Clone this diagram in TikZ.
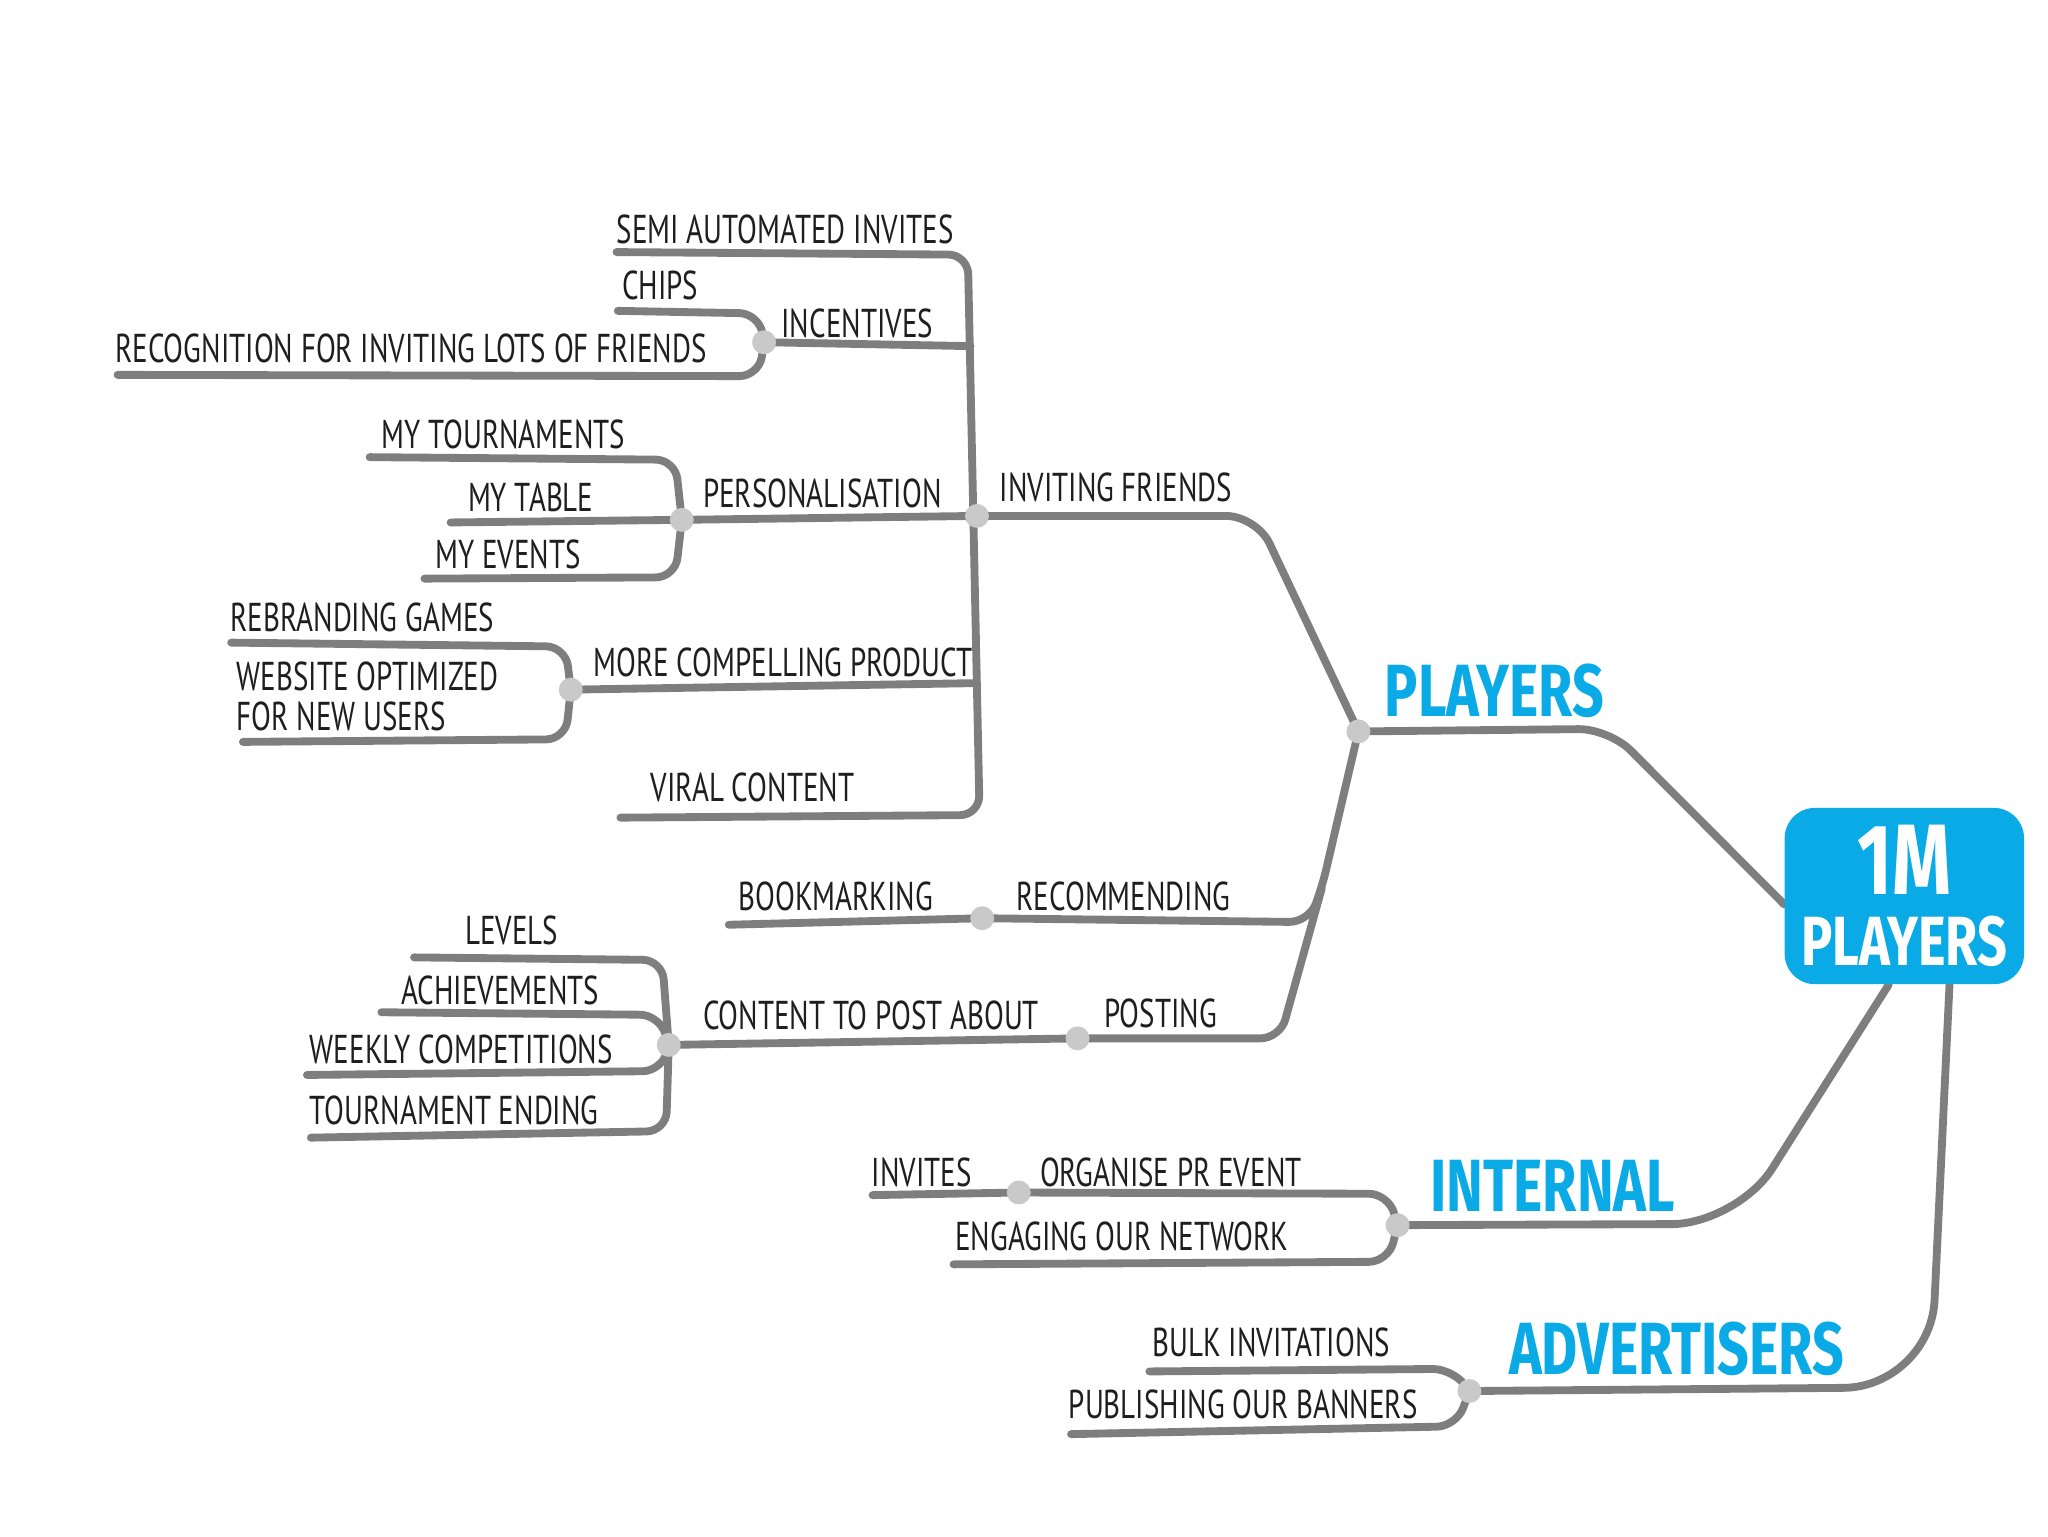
\documentclass[tikz,border=0pt]{standalone}
\usepackage{fontspec}
\newfontfamily\hand[FakeStretch=0.72]{PT Sans}
\newfontfamily\handb[FakeStretch=0.75]{Fira Sans}
\usetikzlibrary{backgrounds}
\definecolor{lgray}{HTML}{7E7E7E}
\definecolor{dgray}{HTML}{C9C9C9}
\definecolor{sky}{HTML}{0AAAE6}
\definecolor{ink}{HTML}{1E1E1E}
\begin{document}
\begin{tikzpicture}[x=0.6pt,y=-0.6pt,
  br/.style={draw=lgray,line width=3.6pt,line cap=round,line join=round,rounded corners=9pt},
  hub/.style={circle,fill=dgray,minimum size=11pt,inner sep=0pt},
  lbl/.style={anchor=south west,inner sep=0pt,text=ink,font=\hand\fontsize{18.5}{21}\selectfont},
  blbl/.style={anchor=south west,inner sep=0pt,text=sky,font=\handb\bfseries\fontsize{34}{36}\selectfont}]
\useasboundingbox (0,0) rectangle (1568,1176);

% central box
\node[fill=sky,rounded corners=14pt,minimum width=110pt,minimum height=81pt,inner sep=0pt,
      align=center,text=white,font=\handb\bfseries] (main) at (1458,686)
      {{\fontsize{46}{46}\selectfont 1M}\\[9pt]{\fontsize{32}{32}\selectfont PLAYERS}};

% hubs
\node[hub] (dPlayers) at (1040,560) {};
\node[hub] (dInv) at (748,395) {};
\node[hub] (dInc) at (585,262) {};
\node[hub] (dPers) at (522,398) {};
\node[hub] (dComp) at (437,528) {};
\node[hub] (dBook) at (752,703) {};
\node[hub] (dPost) at (825,795) {};
\node[hub] (dContent) at (512,800) {};
\node[hub] (dInt) at (1070,938) {};
\node[hub] (dPR) at (780,913) {};
\node[hub] (dAdv) at (1125,1065) {};

% free ends
\coordinate (eSemi) at (472,193);
\coordinate (eViral) at (475,626);
\coordinate (tInc) at (743,265);
\coordinate (tComp) at (748,523);
\coordinate (eChips) at (473,238);
\coordinate (eRecog) at (90,287);
\coordinate (eTourn) at (283,350);
\coordinate (eTable) at (345,400);
\coordinate (eEvents) at (325,443);
\coordinate (eRebr) at (177,492);
\coordinate (eWeb) at (186,568);
\coordinate (eBook) at (558,708);
\coordinate (eLevels) at (317,733);
\coordinate (eAch) at (292,775);
\coordinate (eWeekly) at (235,823);
\coordinate (eTEnd) at (238,871);
\coordinate (eInvites) at (668,915);
\coordinate (eEng) at (730,968);
\coordinate (eBulk) at (880,1050);
\coordinate (ePub) at (820,1098);

% labels
\node[lbl] (lSemi) at (472,187) {SEMI AUTOMATED INVITES};
\node[lbl] (lChips) at (476,230) {CHIPS};
\node[lbl] (lInc) at (598,259) {INCENTIVES};
\node[lbl] (lRecog) at (88,278) {RECOGNITION FOR INVITING LOTS OF FRIENDS};
\node[lbl] (lTourn) at (292,344) {MY TOURNAMENTS};
\node[lbl] (lPers) at (538,389) {PERSONALISATION};
\node[lbl] (lTable) at (358,392) {MY TABLE};
\node[lbl] (lEvents) at (333,436) {MY EVENTS};
\node[lbl] (lInv) at (765,385) {INVITING FRIENDS};
\node[lbl] (lRebr) at (176,484) {REBRANDING GAMES};
\node[lbl] (lComp) at (454,519) {MORE COMPELLING PRODUCT};
\node[lbl,align=left,font=\hand\fontsize{18.5}{18.5}\selectfont] (lWeb) at (181,560) {WEBSITE OPTIMIZED\\FOR NEW USERS};
\node[lbl] (lViral) at (498,614) {VIRAL CONTENT};
\node[lbl] (lBook) at (565,698) {BOOKMARKING};
\node[lbl] (lRec) at (778,698) {RECOMMENDING};
\node[lbl] (lLevels) at (356,724) {LEVELS};
\node[lbl] (lAch) at (307,770) {ACHIEVEMENTS};
\node[lbl] (lContent) at (538,789) {CONTENT TO POST ABOUT};
\node[lbl] (lPost) at (845,787) {POSTING};
\node[lbl] (lWeekly) at (237,815) {WEEKLY COMPETITIONS};
\node[lbl] (lTEnd) at (237,862) {TOURNAMENT ENDING};
\node[blbl] (lPlayers) at (1060,550) {PLAYERS};
\node[blbl] (lInt) at (1095,928) {INTERNAL};
\node[lbl] (lInvites) at (667,909) {INVITES};
\node[lbl] (lPR) at (796,909) {ORGANISE PR EVENT};
\node[lbl] (lEng) at (731,958) {ENGAGING OUR NETWORK};
\node[blbl] (lAdv) at (1155,1054) {ADVERTISERS};
\node[lbl] (lBulk) at (882,1039) {BULK INVITATIONS};
\node[lbl] (lPub) at (818,1087) {PUBLISHING OUR BANNERS};

\begin{scope}[on background layer]
% main branches
\draw[br,rounded corners=14pt] (main.-176) -- (1232,558) -- (dPlayers.center);
\draw[br,rounded corners=30pt] (main.-100) -- (1330,937) -- (dInt.center);
\draw[br,rounded corners=40pt] (main.-63) -- (1478,1062) -- (dAdv.center);
% players
\draw[br,rounded corners=14pt] (dPlayers.center) -- (962,395) -- (dInv.center);
\coordinate (fk) at (1012,680);
\draw[br] (dPlayers.center) -- (fk) -- (1002,706) -- (dBook.center) -- (eBook);
\draw[br] (fk) -- (980,795) -- (dPost.center) -- (dContent.center);
% inviting friends trunk
\draw[br] (eSemi) -- (741,195) -- (750,624) -- (eViral);
\draw[br] (tInc) -- (dInc.center);
\draw[br] (eChips) -- (581,240) -- (dInc.center);
\draw[br] (eRecog) -- (581,288) -- (dInc.center);
\draw[br] (dInv.center) -- (dPers.center);
\draw[br] (eTourn) -- (517,352) -- (dPers.center);
\draw[br] (eTable) -- (dPers.center);
\draw[br] (eEvents) -- (517,442) -- (dPers.center);
\draw[br] (tComp) -- (dComp.center);
\draw[br] (eRebr) -- (433,495) -- (dComp.center);
\draw[br] (eWeb) -- (433,566) -- (dComp.center);
% content
\draw[br] (eLevels) -- (507,735) -- (dContent.center);
\draw[br] (eAch) -- (505,777) -- (dContent.center);
\draw[br] (eWeekly) -- (507,820) -- (dContent.center);
\draw[br] (eTEnd) -- (510,866) -- (dContent.center);
% internal
\draw[br] (dInt.center) -- (1063,914) -- (dPR.center) -- (eInvites);
\draw[br] (dInt.center) -- (1063,966) -- (eEng);
% advertisers
\draw[br] (eBulk) -- (1112,1048) -- (dAdv.center);
\draw[br] (ePub) -- (1115,1092) -- (dAdv.center);
\end{scope}
\end{tikzpicture}
\end{document}
